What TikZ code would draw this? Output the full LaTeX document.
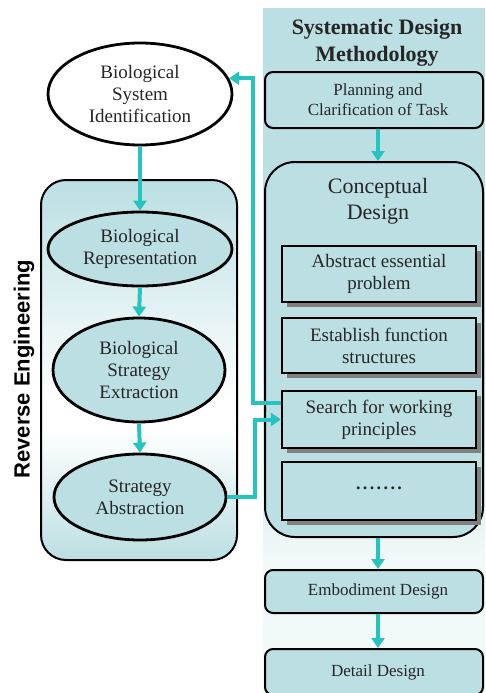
\documentclass[tikz,border=0pt]{standalone}
\usepackage{fontspec}
\setmainfont{Liberation Serif}
\newfontfamily\headsans{Liberation Sans}
\usetikzlibrary{shapes.geometric,arrows.meta,shadows}
\definecolor{boxfill}{RGB}{187,223,227}
\definecolor{arrowc}{RGB}{38,196,190}
\definecolor{pale}{RGB}{242,249,249}
\begin{document}
\begin{tikzpicture}[x=1pt,y=-1pt,
 txt/.style={font=\fontsize{17}{20}\selectfont, align=center, text=black!85},
 bigtxt/.style={font=\fontsize{19}{22}\selectfont, align=center, text=black!85},
 bioell/.style={ellipse, draw, line width=2.8pt, fill=boxfill, inner sep=0pt, bigtxt},
 rbox/.style={draw, line width=2pt, rounded corners=8pt, fill=boxfill, txt, inner sep=0pt, minimum width=218pt},
 ibox/.style={draw, line width=2.2pt, fill=boxfill, bigtxt, inner sep=0pt, minimum width=194pt,
   drop shadow={shadow xshift=5pt, shadow yshift=-5pt, fill=black!50, opacity=1}},
 conn/.style={draw=arrowc, line width=4pt, -{Triangle[width=13pt,length=10pt]}},
]
\useasboundingbox (0,0) rectangle (485,693);
% right background panel
\fill[boxfill] (263,8) rectangle (485,361);
\shade[top color=boxfill, bottom color=pale] (263,360) rectangle (485,560);
\fill[pale] (263,559) rectangle (485,693);
% left box shading
\begin{scope}
\clip[rounded corners=25pt] (41,180) rectangle (237,560);
\shade[top color=boxfill, bottom color=white] (41,180) rectangle (237,401);
\fill[white] (41,400) rectangle (237,431);
\shade[top color=white, bottom color=boxfill] (41,430) rectangle (237,560);
\end{scope}
\node[draw, line width=2pt, rounded corners=25pt, minimum width=196pt, minimum height=380pt, inner sep=0pt] (lbox) at (139,370) {};
\node[rotate=90, font=\headsans\bfseries\fontsize{22}{26}\selectfont] (revlab) at (24,369) {Reverse Engineering};
% left ellipses
\node[bioell, fill=white, minimum width=184pt, minimum height=102pt] (bsi) at (140,94) {Biological\\System\\Identification};
\node[bioell, minimum width=184pt, minimum height=74pt] (brep) at (140,249) {Biological\\Representation};
\node[bioell, minimum width=172pt, minimum height=104pt] (bse) at (139,370) {Biological\\Strategy\\Extraction};
\node[bioell, minimum width=172pt, minimum height=86pt] (sa) at (140,497) {Strategy\\Abstraction};
% right column
\node[font=\bfseries\fontsize{22}{27}\selectfont, align=center, text=black!85] (sdm) at (377,43) {Systematic Design\\Methodology};
\node[rbox, minimum height=56pt] (plan) at (374,100) {\hspace*{8pt}Planning and\\\hspace*{8pt}Clarification of Task};
\node[draw, line width=2pt, rounded corners=30pt, fill=boxfill, minimum width=218pt, minimum height=375pt, inner sep=0pt] (cd) at (374,349.5) {};
\node[font=\fontsize{22}{26}\selectfont, align=center, text=black!85] (cdlab) at (378,201) {Conceptual\\Design};
\node[ibox, minimum height=56pt] (abs) at (379,274) {Abstract essential\\problem};
\node[ibox, minimum height=55pt] (est) at (379,345.5) {Establish function\\structures};
\node[ibox, minimum height=57pt] (search) at (379,419.5) {Search for working\\principles};
\node[ibox, minimum height=58pt, font=\fontsize{18}{20}\selectfont] (dots) at (379,491) {\bfseries .\kern2.4pt.\kern2.4pt.\kern2.4pt.\kern2.4pt.\kern2.4pt.\kern2.4pt.\\[-14pt]\mbox{}};
\node[rbox, minimum height=43pt] (emb) at (374,591.5) {\hspace*{8pt}Embodiment Design};
\node[rbox, minimum height=46pt] (det) at (374,672) {\hspace*{8pt}Detail Design};
% connectors
\draw[conn] (bsi.south) -- (brep.north);
\draw[conn] (brep.south) -- (bse.north);
\draw[conn] (bse.south) -- (sa.north);
\draw[conn] ([xshift=4pt]plan.south) -- ([xshift=4pt]cd.north);
\draw[conn] ([xshift=4pt]cd.south) -- ([xshift=4pt]emb.north);
\draw[conn] ([xshift=4pt]emb.south) -- ([xshift=4pt]det.north);
\draw[conn] ([yshift=17pt]search.west) -- ++(-28,0) |- (bsi.10);
\draw[conn] (sa.east) -- ++(28,0) |- (search.west);
\end{tikzpicture}
\end{document}
